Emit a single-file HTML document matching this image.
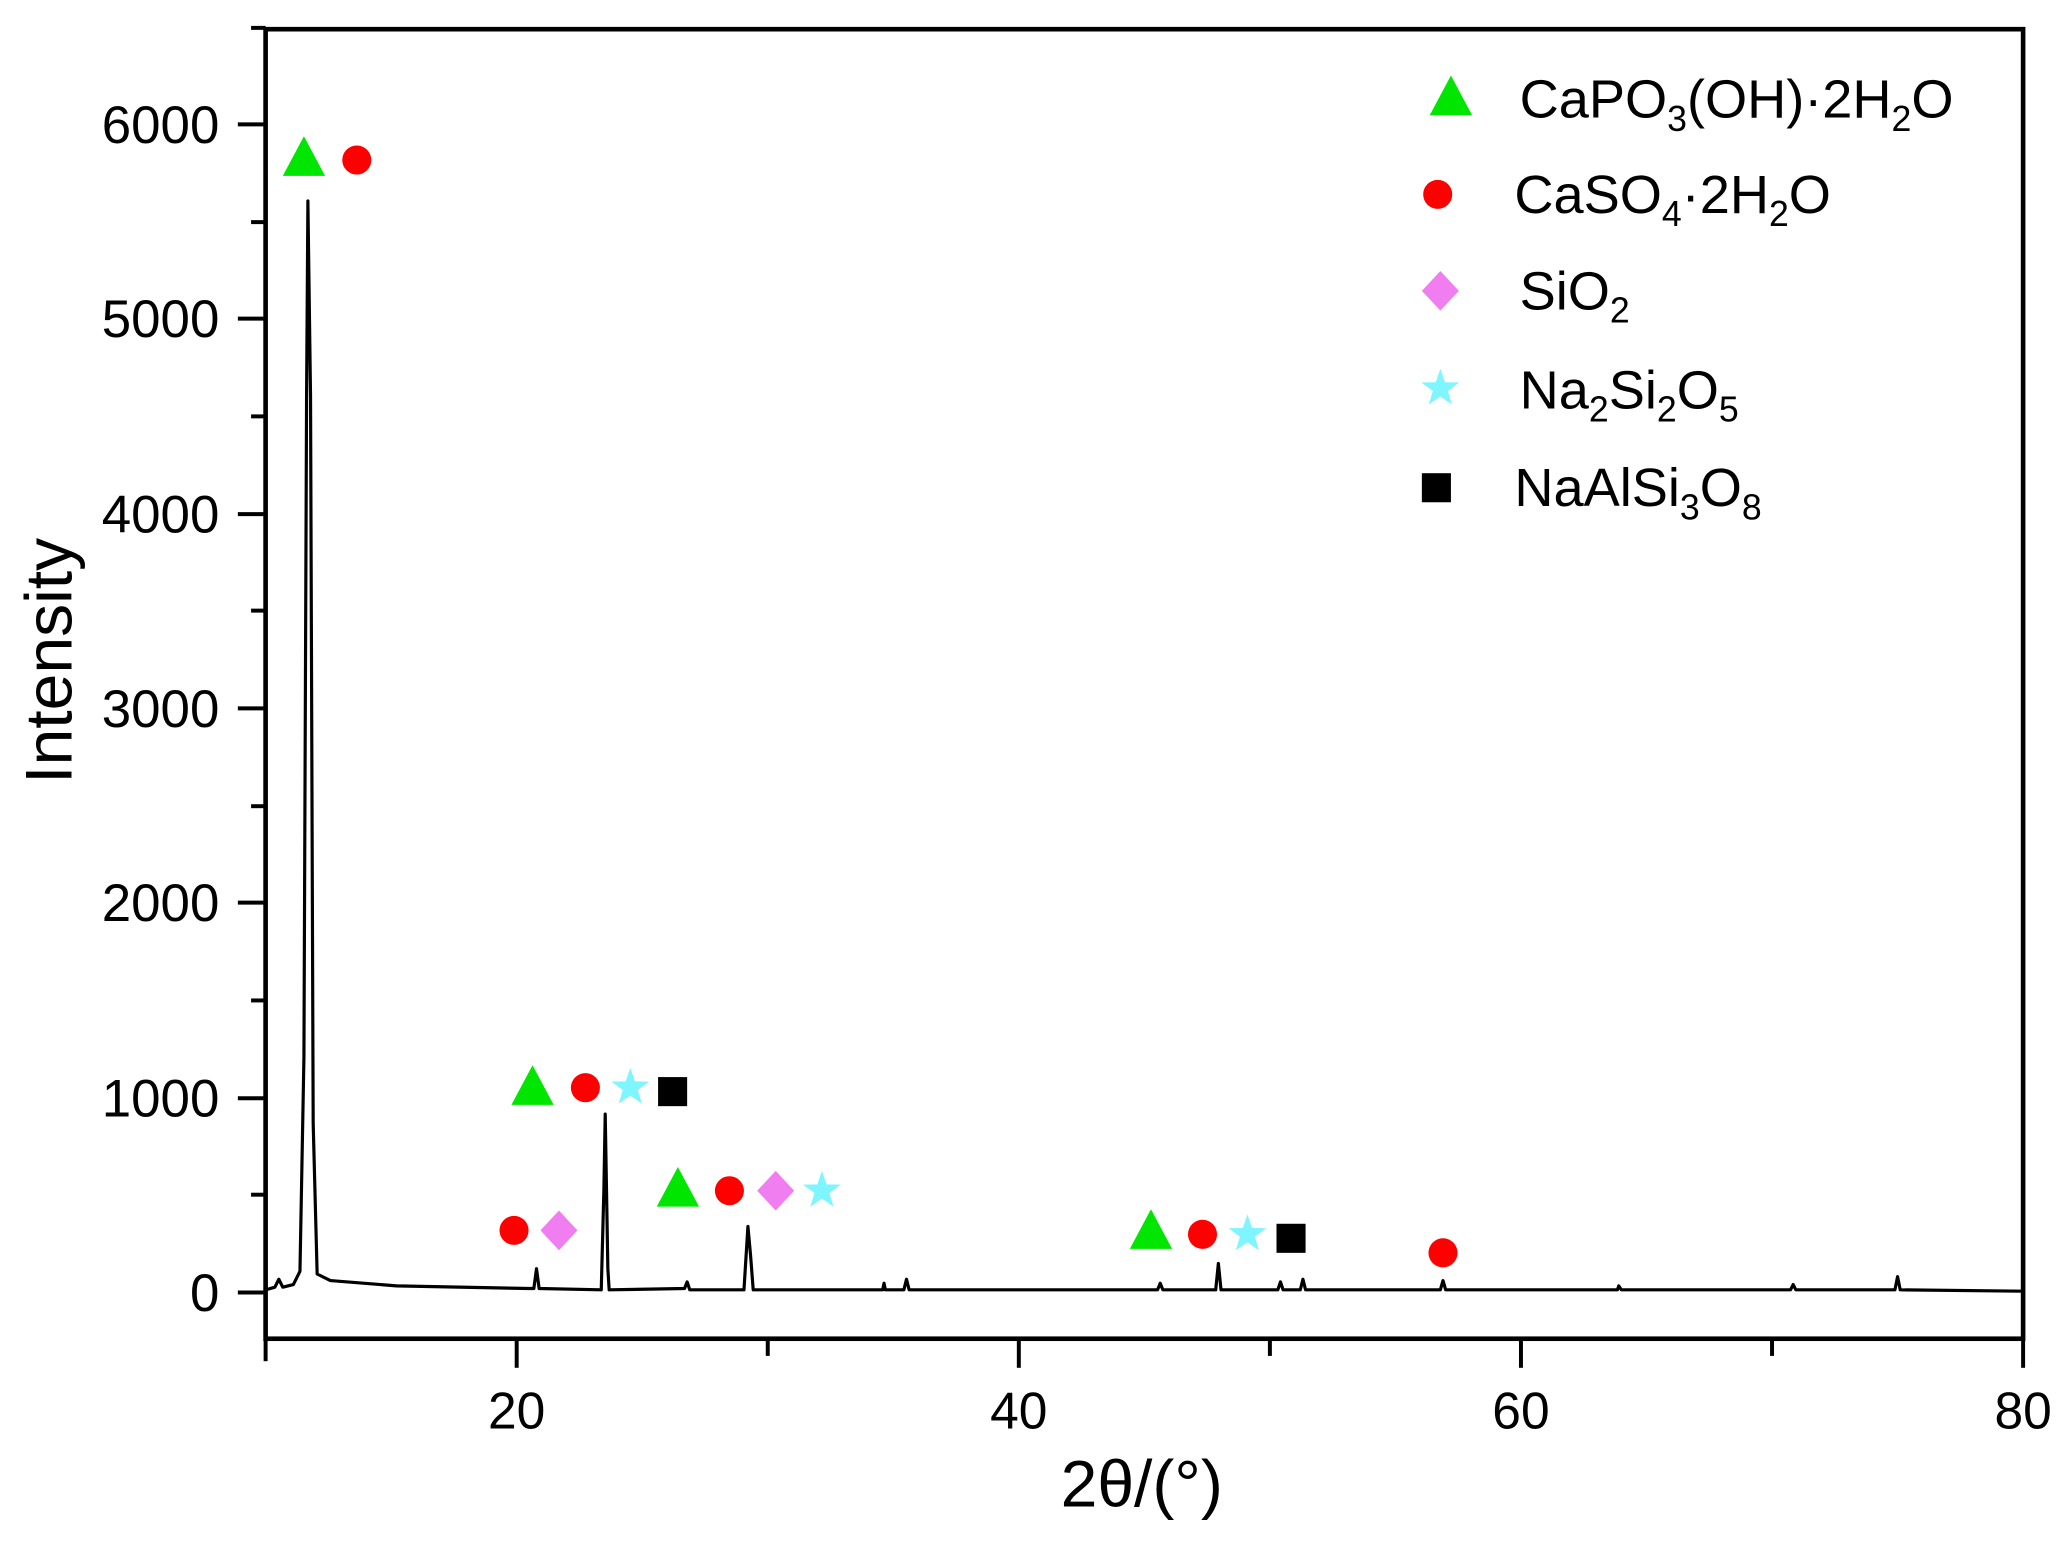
<!DOCTYPE html>
<html><head><meta charset="utf-8"><style>html,body{margin:0;padding:0;background:#fff}svg{display:block}</style></head>
<body>
<svg width="2072" height="1545" viewBox="0 0 1568 1169" xmlns="http://www.w3.org/2000/svg" font-family="Liberation Sans, Arial, sans-serif">
<rect width="1568" height="1169" fill="#fff"/>
<rect x="201" y="22" width="1330" height="991" fill="none" stroke="#000" stroke-width="3.5"/>
<g stroke="#000" stroke-width="3">
<line x1="180" y1="978" x2="201" y2="978"/><line x1="180" y1="831" x2="201" y2="831"/><line x1="180" y1="683" x2="201" y2="683"/><line x1="180" y1="536" x2="201" y2="536"/><line x1="180" y1="389" x2="201" y2="389"/><line x1="180" y1="241" x2="201" y2="241"/><line x1="180" y1="94" x2="201" y2="94"/>
<line x1="190" y1="904" x2="201" y2="904"/><line x1="190" y1="757" x2="201" y2="757"/><line x1="190" y1="610" x2="201" y2="610"/><line x1="190" y1="462" x2="201" y2="462"/><line x1="190" y1="315" x2="201" y2="315"/><line x1="190" y1="168" x2="201" y2="168"/><line x1="190" y1="21" x2="201" y2="21"/>
<line x1="201" y1="1013" x2="201" y2="1030"/><line x1="391" y1="1013" x2="391" y2="1035"/><line x1="581" y1="1013" x2="581" y2="1026"/><line x1="771" y1="1013" x2="771" y2="1035"/><line x1="961" y1="1013" x2="961" y2="1026"/><line x1="1151" y1="1013" x2="1151" y2="1035"/><line x1="1341" y1="1013" x2="1341" y2="1026"/><line x1="1531" y1="1013" x2="1531" y2="1035"/>
</g>
<g font-size="40" fill="#000" text-anchor="end">
<text x="166" y="992">0</text><text x="166" y="845">1000</text><text x="166" y="697">2000</text><text x="166" y="550">3000</text><text x="166" y="403">4000</text><text x="166" y="255">5000</text><text x="166" y="108">6000</text>
</g>
<g font-size="39" fill="#000" text-anchor="middle">
<text x="391" y="1081">20</text><text x="771" y="1081">40</text><text x="1151" y="1081">60</text><text x="1531" y="1081">80</text>
</g>
<text x="864" y="1140" font-size="50" text-anchor="middle">2θ/(°)</text>
<text transform="translate(54,500) rotate(-90)" font-size="50" text-anchor="middle">Intensity</text>
<path fill="none" stroke="#000" stroke-width="2.4" stroke-linejoin="round" d="M201,976 L208,974 L211,968 L214,974 L222,972 L227,962 L230,800 L232,300 L233,152 L235,300 L237,850 L240,964 L250,969 L300,973 L400,975 L404,975 L406,960 L408,975 L455,976 L457,900 L458,843 L460,960 L461,976 L518,975 L520,970 L522,976 L563,976 L566,928 L568,950 L570,976 L668,976 L669,971 L670,976 L684,976 L686,968 L688,976 L876,976 L878,971 L880,976 L920,976 L922,956 L924,976 L967,976 L969,970 L971,976 L984,976 L986,968 L988,976 L1090,976 L1092,969 L1094,976 L1224,976 L1225,973 L1227,976 L1355,976 L1357,972 L1359,976 L1434,976 L1436,966 L1438,976 L1531,977"/>
<defs>
<polygon id="tri" points="0,-17 16,13 -16,13" fill="#00e600"/>
<circle id="cir" r="11" fill="#ff0000"/>
<polygon id="dia" points="0,-15 14,0 0,15 -14,0" fill="#f07ef0"/>
<polygon id="star" points="0,-15 3.5,-4.8 14.3,-4.6 5.7,1.8 8.8,12.1 0,6 -8.8,12.1 -5.7,1.8 -14.3,-4.6 -3.5,-4.8" fill="#7ff5ff"/>
<rect id="sq" x="-11" y="-11" width="22" height="22" fill="#000"/>
</defs>
<use href="#tri" x="230" y="120"/><use href="#cir" x="270" y="121"/>
<use href="#tri" x="403" y="823"/><use href="#cir" x="443" y="823"/><use href="#star" x="477" y="823"/><use href="#sq" x="509" y="826"/>
<use href="#cir" x="389" y="931"/><use href="#dia" x="423" y="931"/>
<use href="#tri" x="513" y="900"/><use href="#cir" x="552" y="901"/><use href="#dia" x="587" y="901"/><use href="#star" x="622" y="901"/>
<use href="#tri" x="871" y="932"/><use href="#cir" x="910" y="934"/><use href="#star" x="944" y="934"/><use href="#sq" x="977" y="937"/>
<use href="#cir" x="1092" y="948"/>
<use href="#tri" x="1098" y="74"/><use href="#cir" x="1088" y="147"/><use href="#dia" x="1090" y="220"/><use href="#star" x="1090" y="294"/><use href="#sq" x="1087" y="369"/>
<g font-size="41" fill="#000">
<text x="1150" y="89">CaPO<tspan font-size="27" dy="10">3</tspan><tspan dy="-10">(OH)·2H</tspan><tspan font-size="27" dy="10">2</tspan><tspan dy="-10">O</tspan></text>
<text x="1146" y="161">CaSO<tspan font-size="27" dy="10">4</tspan><tspan dy="-10">·2H</tspan><tspan font-size="27" dy="10">2</tspan><tspan dy="-10">O</tspan></text>
<text x="1150" y="234">SiO<tspan font-size="27" dy="10">2</tspan></text>
<text x="1150" y="309">Na<tspan font-size="27" dy="10">2</tspan><tspan dy="-10">Si</tspan><tspan font-size="27" dy="10">2</tspan><tspan dy="-10">O</tspan><tspan font-size="27" dy="10">5</tspan></text>
<text x="1146" y="383">NaAlSi<tspan font-size="27" dy="10">3</tspan><tspan dy="-10">O</tspan><tspan font-size="27" dy="10">8</tspan></text>
</g>
</svg>
</body></html>
